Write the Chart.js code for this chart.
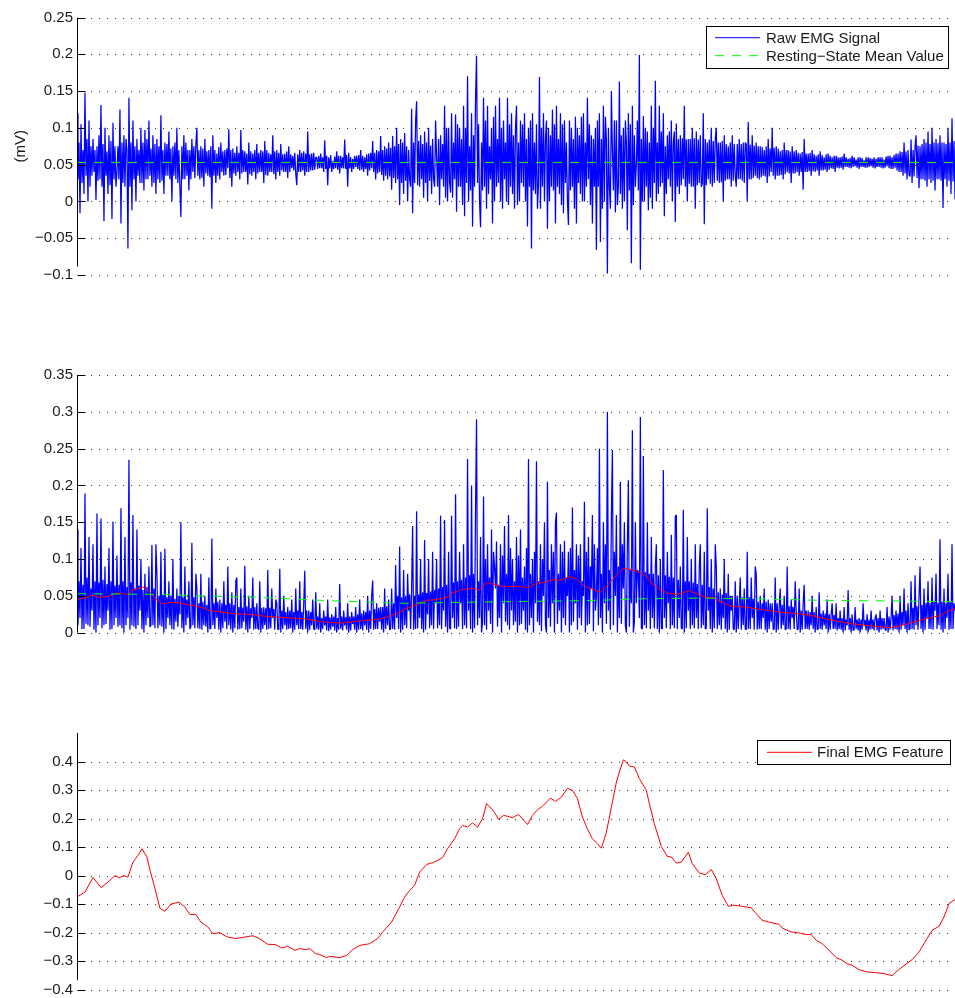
<!DOCTYPE html>
<html>
<head>
<meta charset="utf-8">
<script src="https://cdn.jsdelivr.net/npm/chart.js@4.4.1/dist/chart.umd.min.js"></script>
<style>
    html, body { margin: 0; padding: 0; background: #fff; overflow: hidden; }
    #wrap { position: relative; width: 955px; height: 998px; overflow: hidden; }
    canvas { position: absolute; left: 0; }
</style>
</head>
<body>
<div id="wrap">
    <canvas id="rawChart" width="955" height="290" style="top:0px"></canvas>
    <canvas id="rectChart" width="955" height="290" style="top:360px"></canvas>
    <canvas id="featureChart" width="955" height="283" style="top:720px"></canvas>
</div>
<script>
// EMG processing figure: raw signal, rectified + filtered, final feature

// Raw EMG signal (mV), two samples per frame
const rawEmg = [
    0.12, 0.03, 0.08, -0.016, 0.105, 0.025, 0.07, 0.01, 0.148, 0.035, 0.085, 0.0, 0.11, 0.02, 0.075, 0.035, 0.085, 0.04, 0.07, 0.002, 0.075, 0.028, 0.09, 0.03, 0.131, 0.02, 0.078, -0.027, 0.1, 0.035, 0.068, 0.01, 0.09, 0.022, 0.082, -0.024, 0.107, 0.03, 0.075, 0.02,
    0.04, 0.075, 0.03, 0.125, -0.03, 0.08, 0.025, 0.09, 0.02, 0.085, 0.07, -0.064, 0.141, 0.02, 0.08, -0.012, 0.11, 0.03, 0.075, 0.0, 0.085, 0.035, 0.07, 0.025, 0.1, 0.025, 0.08, 0.015, 0.097, 0.03, 0.085, 0.03, 0.11, 0.035, 0.072, 0.02, 0.09, 0.025, 0.078, 0.01,
    0.085, 0.03, 0.075, 0.025, 0.117, 0.028, 0.07, 0.01, 0.08, 0.035, 0.078, 0.035, 0.095, 0.03, 0.072, 0.0, 0.075, 0.035, 0.08, 0.03, 0.1, 0.025, 0.07, 0.02, -0.021, 0.075, 0.03, 0.09, 0.03, 0.08, 0.035, 0.07, 0.015, 0.07, 0.03, 0.085, 0.04, 0.075, 0.032, 0.078,
    0.1, 0.035, 0.07, 0.03, 0.075, 0.032, 0.072, 0.02, 0.085, 0.038, 0.068, 0.035, 0.07, 0.033, 0.075, -0.01, 0.09, 0.035, 0.07, 0.025, 0.065, 0.035, 0.074, 0.03, 0.08, 0.04, 0.068, 0.035, 0.07, 0.036, 0.072, 0.045, 0.098, 0.032, 0.07, 0.02, 0.072, 0.038, 0.066, 0.035,
    0.075, 0.04, 0.066, 0.03, 0.097, 0.038, 0.07, 0.04, 0.068, 0.04, 0.065, 0.023, 0.08, 0.037, 0.068, 0.035, 0.065, 0.04, 0.07, 0.03, 0.078, 0.038, 0.066, 0.04, 0.07, 0.04, 0.068, 0.025, 0.082, 0.036, 0.07, 0.035, 0.066, 0.04, 0.064, 0.04, 0.09, 0.037, 0.068, 0.03,
    0.07, 0.04, 0.066, 0.035, 0.078, 0.042, 0.064, 0.04, 0.065, 0.04, 0.068, 0.032, 0.075, 0.04, 0.064, 0.045, 0.062, 0.042, 0.066, 0.038, 0.022, 0.064, 0.04, 0.07, 0.04, 0.066, 0.042, 0.068, 0.035, 0.065, 0.04, 0.095, 0.04, 0.064, 0.042, 0.065, 0.042, 0.066, 0.043, 0.06,
    0.06, 0.044, 0.062, 0.045, 0.065, 0.045, 0.06, 0.04, 0.083, 0.044, 0.062, 0.022, 0.06, 0.045, 0.063, 0.04, 0.055, 0.044, 0.061, 0.045, 0.068, 0.043, 0.062, 0.038, 0.062, 0.045, 0.06, 0.045, 0.084, 0.044, 0.063, 0.02, 0.066, 0.045, 0.06, 0.04, 0.058, 0.044, 0.062, 0.047,
    0.062, 0.044, 0.063, 0.042, 0.07, 0.043, 0.062, 0.04, 0.06, 0.044, 0.064, 0.035, 0.065, 0.042, 0.066, 0.045, 0.082, 0.04, 0.066, 0.03, 0.07, 0.038, 0.068, 0.04, 0.089, 0.036, 0.07, 0.028, 0.075, 0.035, 0.072, 0.03, 0.08, 0.034, 0.073, 0.016, 0.089, 0.032, 0.075, 0.025,
    0.1, 0.03, 0.078, -0.005, 0.085, 0.025, 0.08, 0.01, 0.093, 0.028, 0.075, 0.0, 0.07, 0.03, 0.02, 0.126, -0.016, 0.08, 0.025, 0.11, 0.136, 0.022, 0.082, 0.02, 0.09, 0.03, 0.078, 0.005, 0.095, 0.025, 0.08, 0.0, 0.1, 0.028, 0.076, 0.01, 0.085, 0.03, 0.02, 0.11,
    0.06, 0.02, 0.085, -0.005, 0.09, 0.03, 0.078, 0.02, 0.13, 0.005, 0.1, 0.0, 0.1, 0.025, 0.012, 0.12, 0.005, 0.08, 0.03, 0.118, -0.014, 0.105, 0.02, 0.1, 0.02, 0.085, -0.005, 0.13, -0.02, 0.1, 0.025, 0.17, 0.0, 0.075, 0.015, 0.12, -0.034, 0.09, 0.02, 0.14,
    0.198, 0.025, 0.105, 0.0, -0.035, 0.08, 0.015, 0.141, 0.02, 0.11, -0.01, 0.13, 0.01, 0.075, 0.03, 0.1, -0.03, 0.115, 0.0, 0.13, 0.02, 0.085, 0.025, 0.141, 0.0, 0.1, -0.01, 0.11, 0.03, 0.08, 0.0, 0.141, -0.005, 0.105, 0.02, 0.12, 0.01, 0.09, -0.01, 0.1,
    0.13, -0.005, 0.08, 0.0, 0.11, 0.025, 0.105, 0.02, 0.12, 0.0, 0.085, -0.034, 0.1, 0.02, 0.11, -0.064, 0.12, 0.015, 0.08, 0.01, 0.105, -0.01, 0.025, 0.169, -0.01, 0.1, 0.02, 0.12, 0.0, 0.085, 0.11, -0.037, 0.1, 0.0, 0.09, 0.02, 0.125, 0.015, 0.105, -0.03,
    0.13, 0.02, 0.085, 0.01, 0.12, -0.005, 0.105, -0.016, 0.11, 0.025, 0.08, 0.0, -0.032, 0.11, 0.015, 0.1, 0.02, 0.085, -0.01, 0.115, -0.03, 0.1, 0.025, 0.09, 0.01, 0.115, 0.0, 0.12, 0.0, 0.08, 0.02, 0.141, 0.03, 0.105, -0.005, 0.09, -0.03, 0.085, 0.02, 0.1,
    -0.066, 0.11, 0.02, 0.12, -0.055, 0.085, -0.01, 0.13, 0.0, 0.115, 0.085, -0.098, 0.1, 0.02, -0.01, 0.15, 0.07, 0.015, 0.11, -0.015, 0.11, -0.005, 0.02, 0.163, 0.01, 0.09, -0.01, 0.1, 0.0, 0.11, 0.08, -0.039, 0.12, 0.015, 0.105, -0.084, 0.13, -0.005, 0.09, 0.02,
    0.05, 0.11, 0.015, 0.199, -0.093, 0.085, 0.0, 0.116, 0.0, 0.1, 0.02, 0.095, -0.012, 0.08, 0.005, 0.13, -0.01, 0.1, 0.025, 0.164, 0.0, 0.08, 0.01, 0.13, 0.02, 0.095, 0.025, 0.12, -0.02, 0.075, 0.01, 0.09, 0.03, 0.095, 0.02, 0.11, 0.0, 0.08, 0.095, -0.028,
    0.106, 0.02, 0.085, 0.01, 0.09, 0.022, 0.086, 0.03, 0.13, 0.02, 0.084, 0.0, 0.085, 0.024, 0.085, 0.02, 0.1, 0.02, 0.086, -0.01, 0.095, 0.022, 0.084, 0.025, 0.09, 0.02, 0.024, 0.12, -0.031, 0.085, 0.022, 0.08, 0.03, 0.084, 0.024, 0.1, 0.02, 0.082, 0.025, 0.085,
    0.1, 0.028, 0.08, 0.025, 0.08, 0.026, 0.082, 0.0, 0.09, 0.028, 0.078, 0.03, 0.075, 0.03, 0.08, 0.02, 0.09, 0.028, 0.078, 0.035, 0.02, 0.078, 0.03, 0.085, 0.03, 0.078, 0.028, 0.08, 0.025, 0.08, 0.078, 0.0, 0.108, 0.03, 0.077, 0.03, 0.09, 0.032, 0.076, 0.035,
    0.08, 0.032, 0.075, 0.03, 0.075, 0.033, 0.074, 0.035, 0.07, 0.034, 0.075, 0.025, 0.085, 0.034, 0.072, 0.04, 0.1, 0.035, 0.073, 0.03, 0.075, 0.035, 0.072, 0.035, 0.068, 0.036, 0.07, 0.03, 0.08, 0.037, 0.07, 0.04, 0.07, 0.038, 0.068, 0.025, 0.075, 0.038, 0.068, 0.038,
    0.07, 0.04, 0.066, 0.035, 0.065, 0.04, 0.067, 0.016, 0.085, 0.04, 0.065, 0.04, 0.065, 0.041, 0.066, 0.035, 0.07, 0.041, 0.064, 0.04, 0.062, 0.042, 0.064, 0.035, 0.068, 0.042, 0.063, 0.042, 0.06, 0.043, 0.064, 0.04, 0.065, 0.043, 0.062, 0.045, 0.06, 0.044, 0.062, 0.04,
    0.062, 0.046, 0.06, 0.045, 0.06, 0.046, 0.061, 0.043, 0.065, 0.047, 0.06, 0.047, 0.058, 0.046, 0.059, 0.045, 0.062, 0.047, 0.06, 0.048, 0.057, 0.046, 0.06, 0.044, 0.06, 0.047, 0.059, 0.047, 0.056, 0.046, 0.06, 0.046, 0.06, 0.047, 0.059, 0.048, 0.058, 0.046, 0.06, 0.045,
    0.058, 0.047, 0.06, 0.047, 0.06, 0.046, 0.06, 0.045, 0.057, 0.046, 0.061, 0.048, 0.062, 0.045, 0.062, 0.044, 0.06, 0.044, 0.063, 0.046, 0.065, 0.042, 0.065, 0.04, 0.068, 0.04, 0.067, 0.035, 0.08, 0.038, 0.068, 0.03, 0.07, 0.036, 0.034, 0.084, 0.025, 0.07, 0.034, 0.075,
    0.09, 0.032, 0.076, 0.018, 0.075, 0.03, 0.078, 0.03, 0.085, 0.028, 0.08, 0.02, 0.095, 0.03, 0.078, 0.025, 0.1, 0.028, 0.08, 0.015, 0.085, 0.03, 0.079, 0.03, 0.09, 0.028, 0.08, -0.009, 0.08, 0.03, 0.078, 0.02, 0.1, 0.028, 0.08, 0.01, 0.113, 0.027, 0.082, 0.003
];
const restingMean = 0.053;

// Rectified EMG signal (mV), same samples
const rectifiedEmg = [
    0.14, 0.01, 0.07, 0.02, 0.115, 0.005, 0.065, 0.005, 0.189, 0.012, 0.075, 0.01, 0.13, 0.008, 0.06, 0.03, 0.12, 0.004, 0.07, 0.0, 0.162, 0.01, 0.068, 0.02, 0.155, 0.006, 0.072, 0.01, 0.09, 0.012, 0.066, 0.03, 0.115, 0.004, 0.07, 0.005, 0.151, 0.01, 0.064, 0.02,
    0.105, 0.008, 0.065, 0.01, 0.169, 0.006, 0.07, 0.0, 0.13, 0.01, 0.062, 0.02, 0.235, 0.004, 0.068, 0.01, 0.16, 0.008, 0.06, 0.005, 0.14, 0.01, 0.064, 0.03, 0.1, 0.005, 0.058, 0.0, 0.08, 0.01, 0.062, 0.02, 0.09, 0.008, 0.01, 0.119, 0.01, 0.06, 0.006, 0.12,
    0.08, 0.006, 0.05, 0.01, 0.11, 0.008, 0.052, 0.0, 0.114, 0.005, 0.048, 0.02, 0.07, 0.01, 0.05, 0.005, 0.1, 0.004, 0.046, 0.015, 0.06, 0.008, 0.05, 0.025, 0.15, 0.006, 0.048, 0.0, 0.09, 0.01, 0.045, 0.02, 0.07, 0.005, 0.008, 0.122, 0.01, 0.048, 0.006, 0.08,
    0.06, 0.006, 0.04, 0.005, 0.08, 0.004, 0.042, 0.01, 0.05, 0.008, 0.038, 0.0, 0.075, 0.005, 0.006, 0.128, 0.01, 0.04, 0.005, 0.06, 0.02, 0.042, 0.004, 0.045, 0.0, 0.04, 0.006, 0.07, 0.015, 0.038, 0.005, 0.09, 0.01, 0.04, 0.004, 0.055, 0.0, 0.038, 0.006, 0.07,
    0.075, 0.004, 0.035, 0.005, 0.06, 0.006, 0.034, 0.015, 0.091, 0.004, 0.036, 0.0, 0.05, 0.005, 0.033, 0.02, 0.075, 0.004, 0.035, 0.005, 0.04, 0.006, 0.004, 0.07, 0.0, 0.034, 0.005, 0.035, 0.01, 0.033, 0.004, 0.085, 0.005, 0.034, 0.006, 0.06, 0.02, 0.032, 0.004, 0.045,
    0.04, 0.005, 0.004, 0.087, 0.0, 0.03, 0.005, 0.05, 0.01, 0.028, 0.004, 0.035, 0.005, 0.03, 0.006, 0.045, 0.0, 0.028, 0.004, 0.06, 0.01, 0.03, 0.005, 0.07, 0.005, 0.028, 0.004, 0.04, 0.084, 0.005, 0.03, 0.0, 0.03, 0.004, 0.028, 0.01, 0.045, 0.005, 0.004, 0.055,
    0.005, 0.022, 0.004, 0.04, 0.0, 0.02, 0.005, 0.03, 0.01, 0.022, 0.003, 0.045, 0.002, 0.021, 0.004, 0.025, 0.008, 0.022, 0.003, 0.035, 0.0, 0.02, 0.004, 0.066, 0.005, 0.022, 0.003, 0.03, 0.01, 0.021, 0.004, 0.04, 0.0, 0.022, 0.003, 0.028, 0.012, 0.022, 0.004, 0.035,
    0.0, 0.025, 0.004, 0.045, 0.005, 0.026, 0.003, 0.03, 0.01, 0.028, 0.004, 0.05, 0.0, 0.03, 0.005, 0.05, 0.071, 0.004, 0.032, 0.005, 0.04, 0.005, 0.034, 0.015, 0.035, 0.004, 0.035, 0.0, 0.06, 0.005, 0.036, 0.01, 0.045, 0.004, 0.005, 0.06, 0.005, 0.04, 0.004, 0.092,
    0.02, 0.05, 0.005, 0.117, 0.0, 0.048, 0.004, 0.085, 0.01, 0.05, 0.006, 0.08, 0.03, 0.052, 0.005, 0.06, 0.145, 0.004, 0.05, 0.005, 0.165, 0.006, 0.052, 0.02, 0.1, 0.005, 0.055, 0.0, 0.126, 0.004, 0.054, 0.025, 0.1, 0.006, 0.056, 0.01, 0.11, 0.005, 0.058, 0.04,
    0.1, 0.006, 0.06, 0.01, 0.159, 0.005, 0.062, 0.03, 0.153, 0.008, 0.065, 0.0, 0.11, 0.006, 0.005, 0.159, 0.02, 0.068, 0.006, 0.188, 0.005, 0.07, 0.008, 0.11, 0.04, 0.072, 0.005, 0.12, 0.01, 0.075, 0.006, 0.236, 0.03, 0.078, 0.005, 0.2, 0.0, 0.08, 0.006, 0.17,
    0.29, 0.01, 0.07, 0.02, 0.13, 0.0, 0.015, 0.185, 0.01, 0.1, 0.004, 0.12, 0.03, 0.075, 0.012, 0.14, 0.0, 0.11, 0.09, 0.06, 0.124, 0.008, 0.065, 0.02, 0.12, 0.0, 0.105, 0.04, 0.145, 0.015, 0.08, 0.01, 0.16, 0.004, 0.115, 0.03, 0.1, 0.01, 0.07, 0.015,
    0.13, 0.0, 0.105, 0.01, 0.14, 0.012, 0.075, 0.03, 0.09, 0.004, 0.115, 0.0, 0.236, 0.01, 0.08, 0.02, 0.1, 0.0, 0.11, 0.04, 0.233, 0.015, 0.07, 0.01, 0.12, 0.002, 0.1, 0.05, 0.15, 0.01, 0.0, 0.205, 0.02, 0.085, 0.008, 0.12, 0.04, 0.11, 0.0, 0.15,
    0.163, 0.012, 0.08, 0.03, 0.12, 0.0, 0.11, 0.02, 0.125, 0.01, 0.075, 0.05, 0.11, 0.0, 0.115, 0.01, 0.17, 0.015, 0.085, 0.04, 0.12, 0.004, 0.105, 0.02, 0.12, 0.01, 0.07, 0.05, 0.178, 0.0, 0.11, 0.01, 0.13, 0.012, 0.09, 0.06, 0.16, 0.002, 0.12, 0.03,
    0.05, 0.115, 0.01, 0.25, 0.02, 0.08, 0.0, 0.15, 0.04, 0.12, 0.012, 0.3, 0.03, 0.085, 0.004, 0.16, 0.248, 0.01, 0.11, 0.05, 0.16, 0.0, 0.09, 0.02, 0.205, 0.012, 0.12, 0.06, 0.15, 0.01, 0.0, 0.12, 0.207, 0.008, 0.085, 0.04, 0.275, 0.0, 0.015, 0.15,
    0.04, 0.085, 0.082, 0.02, 0.293, 0.006, 0.005, 0.24, 0.01, 0.082, 0.006, 0.15, 0.03, 0.08, 0.005, 0.13, 0.02, 0.08, 0.006, 0.09, 0.12, 0.005, 0.078, 0.0, 0.1, 0.006, 0.005, 0.221, 0.02, 0.078, 0.006, 0.11, 0.04, 0.076, 0.005, 0.133, 0.01, 0.075, 0.006, 0.158,
    0.16, 0.005, 0.072, 0.02, 0.09, 0.006, 0.005, 0.167, 0.0, 0.07, 0.006, 0.13, 0.03, 0.07, 0.005, 0.1, 0.01, 0.068, 0.006, 0.12, 0.02, 0.066, 0.005, 0.09, 0.12, 0.006, 0.065, 0.01, 0.11, 0.005, 0.006, 0.169, 0.03, 0.062, 0.005, 0.1, 0.0, 0.06, 0.006, 0.12,
    0.09, 0.005, 0.055, 0.01, 0.06, 0.004, 0.052, 0.02, 0.1, 0.005, 0.054, 0.0, 0.08, 0.004, 0.05, 0.03, 0.05, 0.005, 0.004, 0.07, 0.0, 0.05, 0.005, 0.04, 0.075, 0.004, 0.048, 0.01, 0.06, 0.005, 0.004, 0.11, 0.005, 0.048, 0.005, 0.075, 0.02, 0.046, 0.004, 0.09,
    0.08, 0.004, 0.042, 0.005, 0.05, 0.005, 0.04, 0.02, 0.06, 0.004, 0.042, 0.0, 0.045, 0.005, 0.04, 0.015, 0.04, 0.004, 0.005, 0.075, 0.0, 0.04, 0.004, 0.035, 0.06, 0.005, 0.038, 0.01, 0.05, 0.004, 0.005, 0.09, 0.005, 0.036, 0.004, 0.045, 0.02, 0.035, 0.005, 0.07,
    0.03, 0.004, 0.005, 0.06, 0.0, 0.03, 0.004, 0.04, 0.065, 0.005, 0.03, 0.005, 0.03, 0.004, 0.028, 0.01, 0.05, 0.005, 0.028, 0.0, 0.035, 0.004, 0.005, 0.055, 0.005, 0.026, 0.004, 0.03, 0.01, 0.026, 0.005, 0.045, 0.0, 0.025, 0.004, 0.025, 0.04, 0.005, 0.024, 0.005,
    0.04, 0.003, 0.02, 0.005, 0.03, 0.004, 0.02, 0.0, 0.035, 0.003, 0.018, 0.01, 0.058, 0.004, 0.02, 0.0, 0.025, 0.003, 0.004, 0.035, 0.005, 0.018, 0.003, 0.02, 0.0, 0.018, 0.004, 0.04, 0.01, 0.017, 0.003, 0.025, 0.0, 0.018, 0.004, 0.03, 0.005, 0.018, 0.003, 0.02,
    0.025, 0.003, 0.02, 0.0, 0.03, 0.004, 0.02, 0.005, 0.02, 0.004, 0.003, 0.035, 0.0, 0.022, 0.004, 0.02, 0.05, 0.003, 0.024, 0.005, 0.03, 0.004, 0.026, 0.0, 0.05, 0.004, 0.028, 0.01, 0.06, 0.005, 0.03, 0.0, 0.04, 0.004, 0.005, 0.07, 0.005, 0.034, 0.004, 0.078,
    0.01, 0.036, 0.004, 0.05, 0.09, 0.005, 0.038, 0.0, 0.06, 0.004, 0.04, 0.02, 0.07, 0.005, 0.04, 0.005, 0.075, 0.004, 0.042, 0.03, 0.08, 0.005, 0.04, 0.01, 0.127, 0.004, 0.042, 0.0, 0.06, 0.005, 0.04, 0.02, 0.08, 0.004, 0.042, 0.005, 0.12, 0.005, 0.04, 0.03
];
const SAMPLES_PER_FRAME = 2;

// Filtered EMG signal (frame, mV)
const filteredSample = [0, 4, 7.5, 11.5, 16.5, 20, 25, 28, 33, 35.5, 39, 43, 46.5, 50.5, 54, 57.5, 61.5, 66.5, 72.5, 78,
    85, 90, 95, 101.5, 106.5, 113, 118, 121.5, 126.5, 132.5, 138, 145, 150, 155, 160, 165, 170, 175, 180, 185,
    188, 193, 198, 201.5, 205, 208, 212.5, 216.5, 221.5, 225.5, 230, 235, 238, 241.5, 246.5, 250, 254, 258, 262, 266.5,
    270, 273, 277.5, 280.5, 285, 288, 291.5, 295.5, 300, 303, 306.5, 310, 315, 318, 323, 327.5, 333, 339, 344, 351.5,
    360, 366.5, 373, 381.5, 388, 395, 401.5, 407.5, 413, 418, 425, 431.5, 436.5, 439.5];
const filteredValue = [0.045, 0.047, 0.051, 0.048, 0.05, 0.054, 0.052, 0.058, 0.062, 0.058, 0.047, 0.039, 0.041, 0.041, 0.039, 0.037, 0.035, 0.03, 0.028, 0.026,
    0.025, 0.024, 0.022, 0.021, 0.02, 0.019, 0.017, 0.015, 0.014, 0.013, 0.015, 0.017, 0.018, 0.021, 0.026, 0.033, 0.038, 0.044, 0.045, 0.048,
    0.054, 0.059, 0.06, 0.058, 0.068, 0.066, 0.063, 0.063, 0.063, 0.061, 0.067, 0.069, 0.072, 0.071, 0.076, 0.073, 0.063, 0.059, 0.055, 0.067,
    0.078, 0.087, 0.086, 0.083, 0.077, 0.066, 0.059, 0.054, 0.052, 0.054, 0.057, 0.053, 0.048, 0.048, 0.041, 0.036, 0.035, 0.033, 0.031, 0.028,
    0.026, 0.024, 0.02, 0.015, 0.012, 0.01, 0.008, 0.007, 0.01, 0.014, 0.019, 0.023, 0.03, 0.033];

// Recursively-computed mean (frame, mV)
const meanSample = [0, 41.5, 61.5, 91.5, 121.5, 141.5, 161.5, 186.5, 211.5, 241.5, 261.5, 281.5, 311.5, 341.5, 371.5, 411.5, 439.5];
const meanValue = [0.053, 0.052, 0.05, 0.048, 0.044, 0.042, 0.04, 0.041, 0.042, 0.043, 0.044, 0.046, 0.047, 0.046, 0.044, 0.043, 0.042];

// Final EMG feature (frame, value)
const featureSample = [0, 4, 8, 12, 15.5, 19, 21, 23.5, 25.5, 28, 30.5, 32.5, 35, 36.5, 39, 41.5, 44, 47, 51, 54,
    56.5, 59.5, 62, 65.5, 68, 71.5, 75, 79.5, 84.5, 88, 91.5, 95.5, 99.5, 102.5, 105.5, 109, 111.5, 114.5, 116.5, 119.5,
    121.5, 125, 126.5, 131.5, 135, 138, 141.5, 146.5, 150.5, 153, 157.5, 161.5, 164, 166.5, 169, 171.5, 175, 178, 180, 183,
    185.5, 189, 191.5, 193, 195.5, 198, 200.5, 203, 205, 206, 209, 211, 213.5, 215.5, 218, 221, 223, 225.5, 228, 230.5,
    233, 237, 239.5, 242.5, 245.5, 248, 250.5, 253, 255.5, 258, 260.5, 262.5, 265, 267.5, 270, 271.5, 273.5, 275, 276.5, 279,
    280.5, 281.5, 285, 286.5, 289, 292.5, 295.5, 297.5, 300, 302.5, 306, 308, 311.5, 314.5, 317.5, 320, 323, 326, 329, 333,
    337.5, 340, 343, 347.5, 351.5, 353, 357.5, 360.5, 365, 367.5, 370, 373, 376.5, 380, 382.5, 385.5, 388, 391.5, 395.5, 400.5,
    404, 408, 410, 413, 418, 421.5, 425, 428, 431.5, 434, 436.5, 439.5];
const featureValue = [-0.075, -0.058, -0.007, -0.042, -0.023, 0.0, -0.008, 0.0, -0.005, 0.047, 0.07, 0.094, 0.065, 0.02, -0.045, -0.115, -0.125, -0.1, -0.093, -0.11,
    -0.136, -0.137, -0.163, -0.18, -0.204, -0.2, -0.215, -0.221, -0.215, -0.211, -0.222, -0.241, -0.242, -0.254, -0.248, -0.262, -0.256, -0.26, -0.256, -0.274,
    -0.277, -0.288, -0.283, -0.288, -0.28, -0.26, -0.245, -0.239, -0.221, -0.198, -0.163, -0.11, -0.075, -0.052, -0.034, 0.012, 0.039, 0.045, 0.051, 0.063,
    0.094, 0.129, 0.164, 0.176, 0.17, 0.185, 0.17, 0.199, 0.252, 0.246, 0.222, 0.197, 0.211, 0.208, 0.203, 0.214, 0.199, 0.179, 0.211, 0.231,
    0.243, 0.272, 0.26, 0.275, 0.306, 0.299, 0.27, 0.205, 0.164, 0.129, 0.112, 0.096, 0.152, 0.24, 0.328, 0.363, 0.406, 0.398, 0.384, 0.381,
    0.357, 0.34, 0.299, 0.252, 0.182, 0.102, 0.067, 0.065, 0.044, 0.047, 0.082, 0.042, 0.009, 0.003, 0.021, -0.011, -0.07, -0.108, -0.104, -0.108,
    -0.113, -0.134, -0.157, -0.165, -0.171, -0.184, -0.198, -0.2, -0.207, -0.207, -0.227, -0.239, -0.262, -0.288, -0.295, -0.309, -0.315, -0.33, -0.338, -0.341,
    -0.344, -0.351, -0.338, -0.321, -0.295, -0.268, -0.227, -0.192, -0.178, -0.145, -0.098, -0.084];

const FONT = "'Liberation Sans', Arial, Helvetica, sans-serif";
const TEXT_COLOR = "#1a1a1a";
const X_MAX = 439.5;

function toPoints(xs, ys) {
    return ys.map((v, i) => ({ x: xs[i], y: v }));
}

function samplePoints(values) {
    return values.map((v, i) => ({ x: i / SAMPLES_PER_FRAME, y: v }));
}

function formatTick(value) {
    const v = Math.round(value * 1000) / 1000;
    if (v === 0) return "0";
    return (v < 0 ? "\u2212" : "") + String(Math.abs(v));
}

// MATLAB-like axis: dotted grid, left spine, inward ticks, boxed legend
const matlabAxes = {
    id: "matlabAxes",
    beforeDatasetsDraw(chart, args, opts) {
        const { ctx, chartArea } = chart;
        const yScale = chart.scales.y;
        ctx.save();
        ctx.strokeStyle = "#3a3a3a";
        ctx.lineWidth = 1;
        ctx.setLineDash([1, 7]);
        yScale.ticks.forEach((t) => {
            const py = Math.round(yScale.getPixelForValue(t.value)) + 0.5;
            ctx.beginPath();
            ctx.moveTo(chartArea.left + 14, py);
            ctx.lineTo(chartArea.right, py);
            ctx.stroke();
        });
        ctx.restore();
    },
    afterDatasetsDraw(chart, args, opts) {
        const { ctx, chartArea } = chart;
        const yScale = chart.scales.y;
        const x0 = Math.round(chartArea.left) + 0.5;
        ctx.save();
        ctx.strokeStyle = "#000";
        ctx.lineWidth = 1;
        ctx.beginPath();
        ctx.moveTo(x0, chartArea.top);
        ctx.lineTo(x0, yScale.getPixelForValue(opts.axisEnd));
        yScale.ticks.forEach((t) => {
            const py = Math.round(yScale.getPixelForValue(t.value)) + 0.5;
            ctx.moveTo(x0, py);
            ctx.lineTo(x0 + 8, py);
        });
        ctx.stroke();

        // legend box
        const lg = opts.legend;
        ctx.fillStyle = "#fff";
        ctx.fillRect(lg.x, lg.y, lg.w, lg.h);
        ctx.strokeRect(lg.x + 0.5, lg.y + 0.5, lg.w, lg.h);
        ctx.font = "15px " + FONT;
        ctx.textBaseline = "middle";
        ctx.textAlign = "left";
        lg.items.forEach((dsIndex, i) => {
            const ds = chart.data.datasets[dsIndex];
            const ry = lg.y + lg.firstRow + i * lg.rowGap;
            ctx.strokeStyle = ds.borderColor;
            ctx.lineWidth = 1;
            ctx.setLineDash(ds.borderDash || []);
            ctx.beginPath();
            ctx.moveTo(lg.lineX0, ry);
            ctx.lineTo(lg.lineX1, ry);
            ctx.stroke();
            ctx.setLineDash([]);
            ctx.fillStyle = TEXT_COLOR;
            ctx.fillText(ds.label, lg.textX, ry + 1);
        });
        ctx.restore();
    },
};

function buildChart(canvasId, datasets, yCfg, padding, axisOpts) {
    return new Chart(document.getElementById(canvasId), {
        type: "line",
        data: { datasets: datasets },
        options: {
            responsive: false,
            animation: false,
            devicePixelRatio: 1,
            layout: { padding: padding },
            elements: {
                point: { radius: 0 },
                line: { borderWidth: 1, tension: 0, borderJoinStyle: "bevel" },
            },
            plugins: {
                legend: { display: false },
                tooltip: { enabled: false },
                matlabAxes: axisOpts,
            },
            scales: {
                x: {
                    type: "linear",
                    min: 0,
                    max: X_MAX,
                    display: false,
                },
                y: {
                    min: yCfg.min,
                    max: yCfg.max,
                    afterFit(scale) { scale.width = 77; },
                    afterBuildTicks(scale) {
                        scale.ticks = scale.ticks.filter((t) => t.value <= yCfg.lastTick + 1e-9);
                    },
                    grid: { display: false, drawTicks: false },
                    border: { display: false },
                    ticks: {
                        stepSize: yCfg.step,
                        padding: 4,
                        color: TEXT_COLOR,
                        font: { family: FONT, size: 15 },
                        callback: formatTick,
                    },
                    title: {
                        display: !!yCfg.title,
                        text: yCfg.title || "",
                        color: TEXT_COLOR,
                        font: { family: FONT, size: 15 },
                        padding: { top: 12, bottom: 0 },
                    },
                },
            },
        },
        plugins: [matlabAxes],
    });
}

// Top: raw signal with resting-state mean
buildChart("rawChart", [
    {
        label: "Raw EMG Signal",
        data: samplePoints(rawEmg),
        borderColor: "#0000ff",
        borderWidth: 1.25,
        order: 2,
    },
    {
        label: "Resting\u2212State Mean Value",
        data: [{ x: 0, y: restingMean }, { x: X_MAX, y: restingMean }],
        borderColor: "#00ff00",
        borderDash: [9, 8],
        order: 1,
    },
], { min: -0.1, max: 0.25, step: 0.05, lastTick: 0.25, title: "(mV)" },
   { top: 17.5, bottom: 15, left: 0, right: 0 },
   { axisEnd: -0.0885, legend: { x: 706, y: 26, w: 242, h: 42, firstRow: 11.7, rowGap: 18, lineX0: 715, lineX1: 760, textX: 766, items: [0, 1] } });

// Middle: rectified, filtered and recursive mean
buildChart("rectChart", [
    {
        label: "Rectified EMG Signal",
        data: samplePoints(rectifiedEmg),
        borderColor: "#0000ff",
        borderWidth: 1.25,
        order: 3,
    },
    {
        label: "Filtered EMG Signal",
        data: toPoints(filteredSample, filteredValue),
        borderColor: "#ff0000",
        order: 2,
    },
    {
        label: "Recursively\u2212Computed Mean Value",
        data: toPoints(meanSample, meanValue),
        borderColor: "#00ff00",
        borderDash: [9, 8],
        order: 1,
    },
], { min: 0, max: 0.35, step: 0.05, lastTick: 0.35 },
   { top: 15, bottom: 17.3, left: 0, right: 0 },
   { axisEnd: 0, legend: { x: 644, y: 383, w: 305, h: 60, firstRow: 12.3, rowGap: 18.3, lineX0: 654, lineX1: 701, textX: 707, items: [0, 1, 2] } });

// Bottom: final feature
buildChart("featureChart", [
    {
        label: "Final EMG Feature",
        data: toPoints(featureSample, featureValue),
        borderColor: "#ff0000",
    },
], { min: -0.4, max: 0.5, step: 0.1, lastTick: 0.4 },
   { top: 12.7, bottom: 13.4, left: 0, right: 0 },
   { axisEnd: -0.367, legend: { x: 757, y: 20, w: 193, h: 24, firstRow: 12.3, rowGap: 18, lineX0: 767, lineX1: 812, textX: 817, items: [0] } });
</script>
</body>
</html>
